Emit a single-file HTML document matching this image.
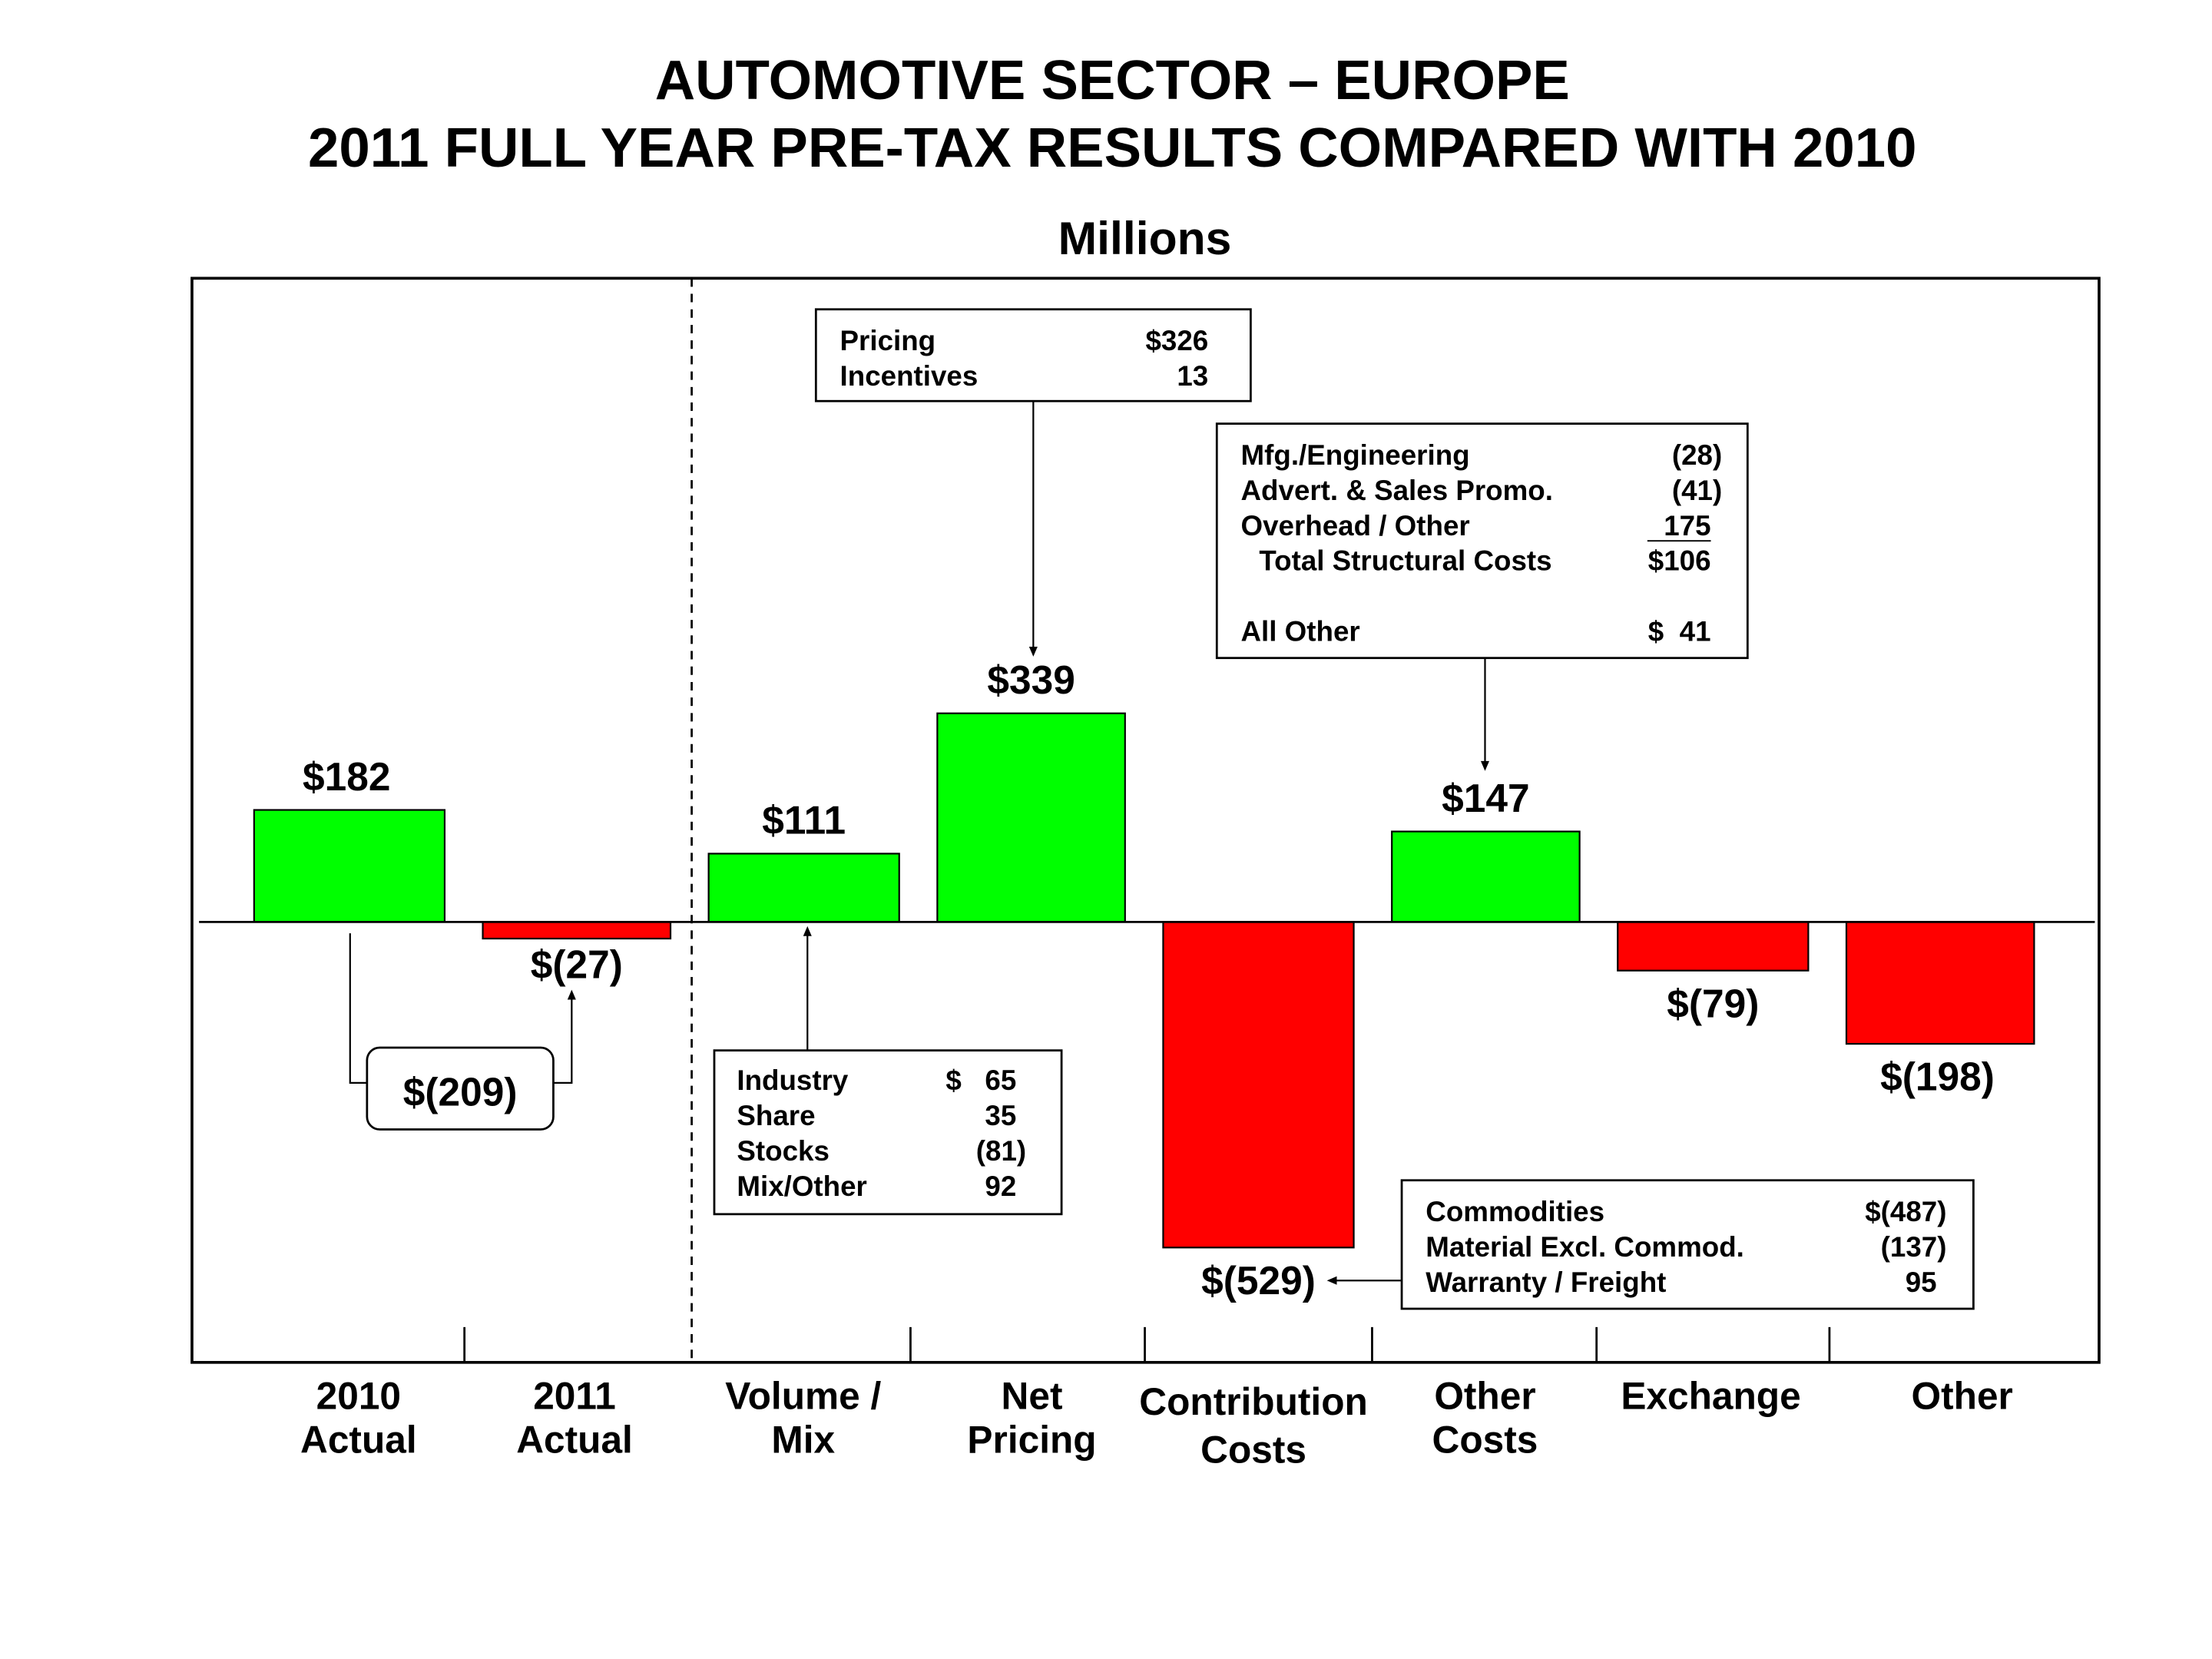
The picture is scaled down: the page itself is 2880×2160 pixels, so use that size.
<!DOCTYPE html>
<html><head><meta charset="utf-8"><style>
html,body{margin:0;padding:0;background:#fff}
svg{display:block}
text{font-family:"Liberation Sans",Arial,sans-serif;font-weight:bold;fill:#000}
</style></head><body>
<svg id="chart" width="2880" height="2160" viewBox="0 0 1567 1175" xmlns="http://www.w3.org/2000/svg">
<text x="788" y="70" font-size="39.5" text-anchor="middle">AUTOMOTIVE SECTOR – EUROPE</text>
<text x="788" y="118" font-size="39.5" text-anchor="middle">2011 FULL YEAR PRE-TAX RESULTS COMPARED WITH 2010</text>
<text x="811" y="180" font-size="33" text-anchor="middle">Millions</text>
<rect x="136" y="197" width="1351" height="768" fill="none" stroke="#000" stroke-width="2"/>
<line x1="490" y1="197" x2="490" y2="965" stroke="#000" stroke-width="1.5" stroke-dasharray="6,5"/>
<g id="bars"></g>
<line x1="141" y1="653" x2="1484" y2="653" stroke="#000" stroke-width="1.5"/>
<g id="ticks" stroke="#000" stroke-width="1.5">
<line x1="329" y1="940" x2="329" y2="965"/>
<line x1="645" y1="940" x2="645" y2="965"/>
<line x1="811" y1="940" x2="811" y2="965"/>
<line x1="972" y1="940" x2="972" y2="965"/>
<line x1="1131" y1="940" x2="1131" y2="965"/>
<line x1="1296" y1="940" x2="1296" y2="965"/>
</g>
<g font-size="27" text-anchor="middle">
<text x="254" y="998">2010</text><text x="254" y="1029">Actual</text>
<text x="407" y="998">2011</text><text x="407" y="1029">Actual</text>
<text x="569" y="998">Volume /</text><text x="569" y="1029">Mix</text>
<text x="731" y="998">Net</text><text x="731" y="1029">Pricing</text>
<text x="888" y="1002">Contribution</text><text x="888" y="1036">Costs</text>
<text x="1052" y="998">Other</text><text x="1052" y="1029">Costs</text>
<text x="1212" y="998">Exchange</text>
<text x="1390" y="998">Other</text>
</g>
<g font-size="20">
<rect x="578" y="219" width="308" height="65" fill="#fff" stroke="#000" stroke-width="1.5"/>
<text x="595" y="248">Pricing</text><text x="856" y="248" text-anchor="end">$326</text>
<text x="595" y="273">Incentives</text><text x="856" y="273" text-anchor="end">13</text>
<line x1="732" y1="284" x2="732" y2="460" stroke="#000" stroke-width="1.2"/>
<path d="M729,458 L732,465 L735,458Z"/>
</g>
<g font-size="20">
<rect x="862" y="300" width="376" height="166" fill="#fff" stroke="#000" stroke-width="1.5"/>
<text x="879" y="329">Mfg./Engineering</text><text x="1220" y="329" text-anchor="end">(28)</text>
<text x="879" y="354">Advert. &amp; Sales Promo.</text><text x="1220" y="354" text-anchor="end">(41)</text>
<text x="879" y="379">Overhead / Other</text><text x="1212" y="379" text-anchor="end">175</text>
<line x1="1167" y1="383" x2="1212" y2="383" stroke="#000" stroke-width="1"/>
<text x="892" y="404">Total Structural Costs</text><text x="1212" y="404" text-anchor="end">$106</text>
<text x="879" y="454">All Other</text><text x="1212" y="454" text-anchor="end" xml:space="preserve">$  41</text>
<line x1="1052" y1="466" x2="1052" y2="541" stroke="#000" stroke-width="1.2"/>
<path d="M1049,539 L1052,546 L1055,539Z"/>
</g>
<g font-size="20">
<rect x="506" y="744" width="246" height="116" fill="#fff" stroke="#000" stroke-width="1.5"/>
<text x="522" y="772">Industry</text><text x="720" y="772" text-anchor="end" xml:space="preserve">$   65</text>
<text x="522" y="797">Share</text><text x="720" y="797" text-anchor="end">35</text>
<text x="522" y="822">Stocks</text><text x="727" y="822" text-anchor="end">(81)</text>
<text x="522" y="847">Mix/Other</text><text x="720" y="847" text-anchor="end">92</text>
<line x1="572" y1="744" x2="572" y2="662" stroke="#000" stroke-width="1.2"/>
<path d="M569,663 L572,656 L575,663Z"/>
</g>
<g font-size="20">
<rect x="993" y="836" width="405" height="91" fill="#fff" stroke="#000" stroke-width="1.5"/>
<text x="1010" y="865">Commodities</text><text x="1379" y="865" text-anchor="end">$(487)</text>
<text x="1010" y="890">Material Excl. Commod.</text><text x="1379" y="890" text-anchor="end">(137)</text>
<text x="1010" y="915">Warranty / Freight</text><text x="1372" y="915" text-anchor="end">95</text>
<line x1="993" y1="907" x2="946" y2="907" stroke="#000" stroke-width="1.2"/>
<path d="M947,904 L940,907 L947,910Z"/>
</g>
<g>
<path d="M248,661 L248,767 L260,767 M392,767 L405,767 L405,708" fill="none" stroke="#000" stroke-width="1.2"/>
<path d="M402,708 L405,701 L408,708Z"/>
<rect x="260" y="742" width="132" height="58" rx="9" fill="#fff" stroke="#000" stroke-width="1.5"/>
<text x="326" y="783" font-size="28" text-anchor="middle">$(209)</text>
</g>
<script>
const categories=["2010 Actual","2011 Actual","Volume / Mix","Net Pricing","Contribution Costs","Other Costs","Exchange","Other"];
const values=[182,-27,111,339,-529,147,-79,-198];
const valueLabels=["$182","$(27)","$111","$339","$(529)","$147","$(79)","$(198)"];
const barLeft=[180,342,502,664,824,986,1146,1308];
const barW=[135,133,135,133,135,133,135,133];
const Y0=653, K=0.436;
function y(v){return Y0-v*K;}
const g=document.getElementById('bars');
const NS='http://www.w3.org/2000/svg';
values.forEach((v,i)=>{
  const r=document.createElementNS(NS,'rect');
  
  
  const top=Math.min(y(v),Y0), h=Math.abs(y(v)-Y0);
  r.setAttribute('x',barLeft[i]);r.setAttribute('y',top);
  r.setAttribute('width',barW[i]);r.setAttribute('height',h);
  r.setAttribute('fill',v>=0?'#00ff00':'#ff0000');
  r.setAttribute('stroke','#000');r.setAttribute('stroke-width','1.2');
  g.appendChild(r);
  const t=document.createElementNS(NS,'text');
  
  
  let cx=barLeft[i]+barW[i]/2;
  if(i===0)cx-=2; if(i===7)cx-=2;
  t.setAttribute('x',cx);
  const off=(i===1)?28:33;
  t.setAttribute('y',v>=0?y(v)-14:y(v)+off);
  t.setAttribute('font-size','28');
  t.setAttribute('text-anchor','middle');
  t.textContent=valueLabels[i];
  g.appendChild(t);
});
</script>
</svg>
</body></html>
